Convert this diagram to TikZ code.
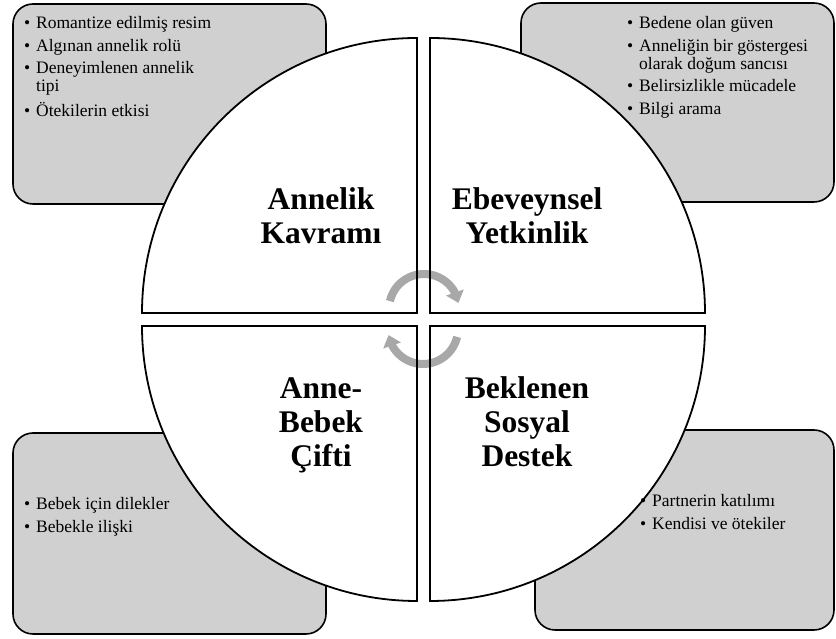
\documentclass[tikz,border=0pt]{standalone}
\usepackage{fontspec}
\setmainfont{Liberation Serif}
\usetikzlibrary{arrows.meta,bending}
\definecolor{boxgray}{RGB}{208,208,208}
\definecolor{arrgray}{RGB}{168,168,168}
\newcommand\bl{\makebox[12pt][l]{\textbullet}}
\newcommand\cont{\hspace*{12pt}}
\begin{document}
\begin{tikzpicture}[x=1pt,y=1pt,
 infobox/.style={fill=boxgray,draw=black,line width=1.6pt,rounded corners=20pt},
 quadline/.style={draw=black,line width=1.8pt,line join=miter},
 lbl/.style={anchor=base,inner sep=0pt,font=\bfseries\fontsize{31.5}{34}\selectfont},
 bul/.style={anchor=base west,inner sep=0pt,font=\fontsize{17.5}{18}\selectfont},
 cyc/.style={draw=arrgray,line width=8pt,-{Triangle[width=18pt,length=11pt]}}
]
\useasboundingbox (0,0) rectangle (836,639);
% info boxes
\draw[infobox] (13,435) rectangle (326,635);
\draw[infobox] (521,437) rectangle (834,636);
\draw[infobox] (13,5) rectangle (326,206);
\draw[infobox] (535,9) rectangle (834,209);
% quadrant fills
\fill[white] (417,326) -- (417,601) arc[start angle=90,end angle=180,radius=275] -- cycle;
\fill[white] (430,326) -- (705,326) arc[start angle=0,end angle=90,radius=275] -- cycle;
\fill[white] (417,313) -- (142,313) arc[start angle=180,end angle=270,radius=275] -- cycle;
\fill[white] (430,313) -- (430,38) arc[start angle=270,end angle=360,radius=275] -- cycle;
% cycle arrows
\draw[cyc] (424,330) ++(167:35) arc[start angle=167,end angle=10,radius=35];
\draw[cyc] (423,310) ++(-13:35) arc[start angle=-13,end angle=-170,radius=35];
% quadrant outlines
\draw[quadline] (417,326) -- (417,601) arc[start angle=90,end angle=180,radius=275] -- cycle;
\draw[quadline] (430,326) -- (705,326) arc[start angle=0,end angle=90,radius=275] -- cycle;
\draw[quadline] (417,313) -- (142,313) arc[start angle=180,end angle=270,radius=275] -- cycle;
\draw[quadline] (430,313) -- (430,38) arc[start angle=270,end angle=360,radius=275] -- cycle;
% quadrant labels
\node[lbl] (t1) at (321,429) {\begin{tabular}[t]{@{}c@{}}Annelik\\Kavramı\end{tabular}};
\node[lbl] (t2) at (527,429) {\begin{tabular}[t]{@{}c@{}}Ebeveynsel\\Yetkinlik\end{tabular}};
\node[lbl] (t3) at (321,240) {\begin{tabular}[t]{@{}c@{}}Anne-\\Bebek\\Çifti\end{tabular}};
\node[lbl] (t4) at (527,240) {\begin{tabular}[t]{@{}c@{}}Beklenen\\Sosyal\\Destek\end{tabular}};
% bullet lists
\node[bul] (l1) at (24,610) {\begin{tabular}[t]{@{}l@{}}\bl Romantize edilmiş resim\\[4.5pt]\bl Algınan annelik rolü\\[4.5pt]\bl Deneyimlenen annelik\\\cont tipi\\[4.5pt]\bl Ötekilerin etkisi\end{tabular}};
\node[bul] (l2) at (627,610) {\begin{tabular}[t]{@{}l@{}}\bl Bedene olan güven\\[4.5pt]\bl Anneliğin bir göstergesi\\\cont olarak doğum sancısı\\[4.5pt]\bl Belirsizlikle mücadele\\[4.5pt]\bl Bilgi arama\end{tabular}};
\node[bul] (l3) at (24,129) {\begin{tabular}[t]{@{}l@{}}\bl Bebek için dilekler\\[4.5pt]\bl Bebekle ilişki\end{tabular}};
\node[bul] (l4) at (640,132) {\begin{tabular}[t]{@{}l@{}}\bl Partnerin katılımı\\[4.5pt]\bl Kendisi ve ötekiler\end{tabular}};
\end{tikzpicture}
\end{document}
